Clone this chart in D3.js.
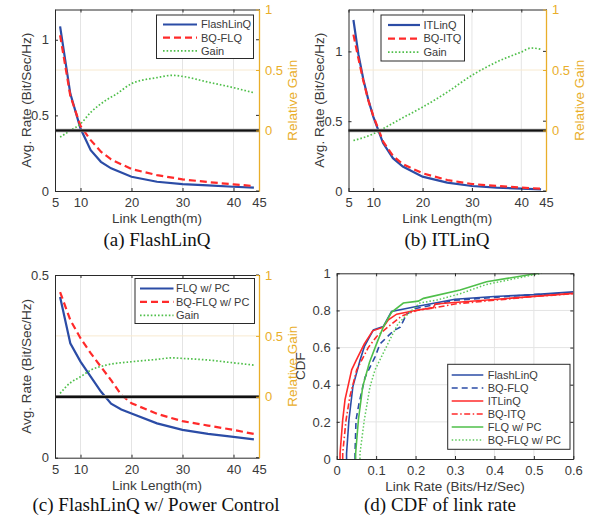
<!DOCTYPE html>
<html><head><meta charset="utf-8">
<script src="https://cdn.jsdelivr.net/npm/d3@7"></script>
<style>
body{margin:0;background:#fff;}
svg{display:block;}
text{font-family:"Liberation Sans",Arial,Helvetica,sans-serif;}
</style></head>
<body>
<svg id="chart" width="595" height="529"></svg>
<script>
// ---------- DATA ----------
const xTicks = [5, 10, 20, 30, 40, 45];
const gainTicks = [0, 0.5, 1];

// (a) FlashLinQ
const lenA = [6, 8, 10, 12, 14, 16, 20, 25, 30, 35, 40, 44];
const flashLinQ = [1.088, 0.644, 0.413, 0.27, 0.193, 0.15, 0.094, 0.061, 0.046, 0.037, 0.028, 0.022];
const bqFLQ = [1.03, 0.63, 0.43, 0.336, 0.26, 0.209, 0.145, 0.105, 0.077, 0.059, 0.044, 0.033];
const gainLenA = [6, 8, 10, 12, 15, 17, 20, 25, 28, 30, 35, 40, 44];
const gainA = [-0.055, 0.0, 0.055, 0.15, 0.25, 0.30, 0.387, 0.437, 0.456, 0.447, 0.40, 0.354, 0.312];

// (b) ITLinQ
const lenB = [6, 7, 8, 9, 10, 12, 14, 16, 20, 25, 30, 35, 40, 44];
const itLinQ = [1.225, 0.98, 0.80, 0.655, 0.535, 0.343, 0.235, 0.175, 0.103, 0.06, 0.036, 0.024, 0.017, 0.012];
const bqITQ = [1.12, 0.95, 0.79, 0.65, 0.54, 0.355, 0.252, 0.192, 0.127, 0.079, 0.05, 0.036, 0.024, 0.017];
const gainLenB = [6, 10, 12, 15, 20, 25, 30, 35, 40, 42, 44];
const gainB = [-0.083, -0.028, 0.014, 0.083, 0.193, 0.317, 0.456, 0.566, 0.649, 0.682, 0.671];

// (c) FlashLinQ w/ Power Control
const lenC = [6, 8, 10, 12, 14, 16, 18, 20, 25, 30, 35, 40, 44];
const flqPC = [0.44, 0.313, 0.263, 0.222, 0.181, 0.148, 0.132, 0.121, 0.094, 0.076, 0.065, 0.057, 0.05];
const bqFlqPC = [0.453, 0.377, 0.327, 0.286, 0.249, 0.212, 0.172, 0.149, 0.12, 0.1, 0.088, 0.076, 0.065];
const gainLenC = [6, 8, 10, 12, 15, 20, 25, 28, 30, 35, 40, 44];
const gainC = [0.028, 0.115, 0.164, 0.219, 0.26, 0.288, 0.307, 0.32, 0.315, 0.302, 0.279, 0.26];

// (d) CDF of link rate
const cdfXTicks = [0, 0.1, 0.2, 0.3, 0.4, 0.5, 0.6];
const cdfYTicks = [0, 0.2, 0.4, 0.6, 0.8, 1];
const cdfNames = ["FlashLinQ", "BQ-FLQ", "ITLinQ", "BQ-ITQ", "FLQ w/ PC", "BQ-FLQ w/ PC"];
const cdfFLQ_x = [0.025, 0.025, 0.031, 0.041, 0.059, 0.070, 0.093, 0.118, 0.139, 0.199, 0.30, 0.40, 0.50, 0.60];
const cdfFLQ_y = [0, 0.03, 0.21, 0.39, 0.53, 0.605, 0.695, 0.713, 0.794, 0.82, 0.86, 0.875, 0.885, 0.90];
const cdfBQFLQ_x = [0.0465, 0.0465, 0.049, 0.0566, 0.0719, 0.0972, 0.11, 0.1437, 0.161, 0.1775, 0.20, 0.30, 0.40, 0.50, 0.60];
const cdfBQFLQ_y = [0, 0.03, 0.21, 0.30, 0.44, 0.55, 0.62, 0.69, 0.71, 0.78, 0.81, 0.855, 0.87, 0.885, 0.895];
const cdfITQ_x = [0.0085, 0.0085, 0.0152, 0.0211, 0.038, 0.049, 0.070, 0.0913, 0.118, 0.131, 0.152, 0.199, 0.245, 0.25, 0.60];
const cdfITQ_y = [0, 0.03, 0.21, 0.32, 0.48, 0.53, 0.62, 0.69, 0.71, 0.75, 0.78, 0.80, 0.815, 0.835, 0.892];
const cdfBQITQ_x = [0.0152, 0.0152, 0.0237, 0.0338, 0.0507, 0.080, 0.1014, 0.135, 0.165, 0.203, 0.25, 0.30, 0.40, 0.50, 0.60];
const cdfBQITQ_y = [0, 0.03, 0.21, 0.34, 0.48, 0.60, 0.66, 0.72, 0.77, 0.80, 0.815, 0.835, 0.855, 0.875, 0.89];
const cdfFLQPC_x = [0.048, 0.048, 0.055, 0.066, 0.083, 0.101, 0.118, 0.139, 0.169, 0.207, 0.22, 0.313, 0.38, 0.511];
const cdfFLQPC_y = [0, 0.03, 0.21, 0.39, 0.52, 0.62, 0.71, 0.79, 0.84, 0.85, 0.865, 0.91, 0.955, 1.0];
const cdfBQFLQPC_x = [0.059, 0.059, 0.070, 0.0845, 0.0972, 0.118, 0.139, 0.156, 0.19, 0.211, 0.254, 0.313, 0.38, 0.507, 0.52];
const cdfBQFLQPC_y = [0, 0.03, 0.21, 0.39, 0.48, 0.57, 0.66, 0.73, 0.80, 0.84, 0.856, 0.89, 0.94, 0.995, 1.0];

// ---------- STYLE ----------
const BLUE = "#2b4ca6", RED = "#ff2a2a", GREEN = "#4fbf4a", GREEN2 = "#5cc95a";
const ORANGE = "#e9ae2a", AX = "#2a2a2a", TXT = "#3a3a3a", GRID = "#e4e4e4";
const FS = "13px";
const svg = d3.select("#chart");

function zip(xs, ys){ return xs.map((x,i)=>[x, ys[i]]); }

function drawDual(cfg){
  const g = svg.append("g");
  const x = d3.scaleLinear().domain([5,45]).range([cfg.l, cfg.r]);
  const y = d3.scaleLinear().domain([0, cfg.yMax]).range([cfg.b, cfg.t]);
  const y2 = d3.scaleLinear().domain([-0.5, 1]).range([cfg.b, cfg.t]);
  // grids
  g.selectAll(".vg").data(xTicks.filter(v=>v>5&&v<45)).enter().append("line")
    .attr("x1", d=>x(d)).attr("x2", d=>x(d)).attr("y1", cfg.t).attr("y2", cfg.b)
    .attr("stroke", GRID).attr("stroke-width", 1);
  g.append("line").attr("x1", cfg.l).attr("x2", cfg.r).attr("y1", y2(0.5)).attr("y2", y2(0.5))
    .attr("stroke", "#f8ead0").attr("stroke-width", 1);
  // curves
  const line = d3.line().x(d=>x(d[0])).y(d=>y(d[1]));
  const line2 = d3.line().x(d=>x(d[0])).y(d=>y2(d[1])).curve(d3.curveMonotoneX);
  g.append("path").attr("d", line(zip(cfg.xs, cfg.s1))).attr("fill","none")
    .attr("stroke", BLUE).attr("stroke-width", 2.2);
  g.append("path").attr("d", line(zip(cfg.xs, cfg.s2))).attr("fill","none")
    .attr("stroke", RED).attr("stroke-width", 2.2).attr("stroke-dasharray", "7,4");
  g.append("path").attr("d", line2(zip(cfg.gx, cfg.gain))).attr("fill","none")
    .attr("stroke", GREEN).attr("stroke-width", 1.7).attr("stroke-dasharray", "1.6,2");
  // zero gain line
  g.append("line").attr("x1", cfg.l).attr("x2", cfg.r).attr("y1", y2(0)).attr("y2", y2(0))
    .attr("stroke", "#9a9a9a").attr("stroke-width", 3.6);
  g.append("line").attr("x1", cfg.l).attr("x2", cfg.r).attr("y1", y2(0)).attr("y2", y2(0))
    .attr("stroke", "#111").attr("stroke-width", 2.2);
  // axes
  const bottom = g.append("g").attr("transform", `translate(0,${cfg.b})`)
    .call(d3.axisBottom(x).tickValues(xTicks).tickSizeInner(-3).tickSizeOuter(0).tickPadding(7));
  const top = g.append("g").attr("transform", `translate(0,${cfg.t})`)
    .call(d3.axisTop(x).tickValues(xTicks).tickSizeInner(-3).tickSizeOuter(0).tickFormat(""));
  const left = g.append("g").attr("transform", `translate(${cfg.l},0)`)
    .call(d3.axisLeft(y).tickValues(cfg.yTicks).tickSizeInner(-3).tickSizeOuter(0).tickPadding(6).tickFormat(d3.format("~g")));
  g.selectAll(".mt").data(cfg.yTicks).enter().append("line")
    .attr("x1", cfg.r-3).attr("x2", cfg.r).attr("y1", d=>y(d)).attr("y2", d=>y(d)).attr("stroke", AX);
  const right = g.append("g").attr("transform", `translate(${cfg.r},0)`)
    .call(d3.axisRight(y2).tickValues(gainTicks).tickSizeInner(-3).tickSizeOuter(0).tickPadding(6).tickFormat(d3.format("~g")));
  [bottom, top, left].forEach(a=>{
    a.select(".domain").attr("stroke", AX).attr("stroke-width", 1);
    a.selectAll(".tick line").attr("stroke", AX);
    a.selectAll("text").attr("fill", TXT).style("font-size", FS);
  });
  right.select(".domain").attr("stroke", ORANGE).attr("stroke-width", 1.3);
  right.selectAll(".tick line").attr("stroke", ORANGE);
  right.selectAll("text").attr("fill", ORANGE).style("font-size", FS);
  // labels
  g.append("text").attr("x", (cfg.l+cfg.r)/2).attr("y", cfg.b+32).attr("text-anchor","middle")
    .attr("fill", TXT).style("font-size","13.5px").text("Link Length(m)");
  g.append("text").attr("transform", `translate(${cfg.l-29},${(cfg.t+cfg.b)/2}) rotate(-90)`)
    .attr("text-anchor","middle").attr("dy","0.35em").attr("fill", TXT).style("font-size","13.5px")
    .text("Avg. Rate (Bit/Sec/Hz)");
  g.append("text").attr("transform", `translate(${cfg.r+33},${(cfg.t+cfg.b)/2}) rotate(-90)`)
    .attr("text-anchor","middle").attr("dy","0.35em").attr("fill", ORANGE).style("font-size","13.5px")
    .text("Relative Gain");
  // legend
  const L = cfg.leg;
  const lg = g.append("g");
  lg.append("rect").attr("x", L.x0).attr("y", L.y0).attr("width", L.x1-L.x0).attr("height", L.y1-L.y0)
    .attr("fill","#fff").attr("stroke", AX).attr("stroke-width", 1);
  const styles = [
    {c: BLUE, w: 2.2, d: null},
    {c: RED, w: 2.2, d: "7,4"},
    {c: GREEN, w: 1.7, d: "1.6,2"}
  ];
  cfg.names.forEach((n,i)=>{
    const yy = L.y0 + L.first + i*L.step;
    lg.append("line").attr("x1", L.lx0).attr("x2", L.lx1).attr("y1", yy).attr("y2", yy)
      .attr("stroke", styles[i].c).attr("stroke-width", styles[i].w).attr("stroke-dasharray", styles[i].d);
    lg.append("text").attr("x", L.tx).attr("y", yy).attr("dy","0.35em").attr("fill", TXT)
      .style("font-size","11px").text(n);
  });
  // caption
  svg.append("text").attr("x", cfg.capX).attr("y", cfg.capY).attr("text-anchor","middle")
    .style("font-family","'Liberation Serif','Times New Roman',serif").style("font-size","19px")
    .attr("fill","#111").text(cfg.caption);
}

drawDual({l:55, r:259, t:9.5, b:191, yMax:1.2, yTicks:[0,0.5,1], xs:lenA, s1:flashLinQ, s2:bqFLQ,
  gx:gainLenA, gain:gainA, names:["FlashLinQ","BQ-FLQ","Gain"],
  leg:{x0:156.5, x1:253.5, y0:15, y1:58.5, first:9.5, step:13.2, lx0:163, lx1:197, tx:201},
  caption:"(a) FlashLinQ", capX:157, capY:246});
drawDual({l:348.5, r:546, t:9.5, b:191, yMax:1.3, yTicks:[0,0.5,1], xs:lenB, s1:itLinQ, s2:bqITQ,
  gx:gainLenB, gain:gainB, names:["ITLinQ","BQ-ITQ","Gain"],
  leg:{x0:381, x1:464.5, y0:15, y1:61, first:10, step:13.6, lx0:388, lx1:420, tx:423.5},
  caption:"(b) ITLinQ", capX:447, capY:246});
drawDual({l:55, r:259, t:275, b:457.7, yMax:0.5, yTicks:[0,0.5], xs:lenC, s1:flqPC, s2:bqFlqPC,
  gx:gainLenC, gain:gainC, names:["FLQ w/ PC","BQ-FLQ w/ PC","Gain"],
  leg:{x0:135, x1:254.5, y0:278.5, y1:323.5, first:10, step:13.4, lx0:140, lx1:173.5, tx:176},
  caption:"(c) FlashLinQ w/ Power Control", capX:156, capY:511});

// ---------- (d) CDF ----------
(function(){
  const l=336.7, r=573.3, t=273.3, b=459;
  const g = svg.append("g");
  const x = d3.scaleLinear().domain([0,0.6]).range([l,r]);
  const y = d3.scaleLinear().domain([0,1]).range([b,t]);
  g.selectAll(".vg").data(cdfXTicks.slice(1,-1)).enter().append("line")
    .attr("x1", d=>x(d)).attr("x2", d=>x(d)).attr("y1", t).attr("y2", b).attr("stroke", GRID);
  g.selectAll(".hg").data(cdfYTicks.slice(1,-1)).enter().append("line")
    .attr("y1", d=>y(d)).attr("y2", d=>y(d)).attr("x1", l).attr("x2", r).attr("stroke", GRID);
  const series = [
    {xs:cdfFLQ_x, ys:cdfFLQ_y, c:BLUE, d:null, w:1.6},
    {xs:cdfBQFLQ_x, ys:cdfBQFLQ_y, c:BLUE, d:"6,4", w:1.6},
    {xs:cdfITQ_x, ys:cdfITQ_y, c:RED, d:null, w:1.6},
    {xs:cdfBQITQ_x, ys:cdfBQITQ_y, c:RED, d:"6,2.5,1.5,2.5", w:1.6},
    {xs:cdfFLQPC_x, ys:cdfFLQPC_y, c:GREEN, d:null, w:1.6},
    {xs:cdfBQFLQPC_x, ys:cdfBQFLQPC_y, c:GREEN2, d:"1.5,2", w:1.5}
  ];
  const line = d3.line().x(d=>x(d[0])).y(d=>y(d[1]));
  g.append("defs").append("clipPath").attr("id","clipd").append("rect")
    .attr("x", l).attr("y", t).attr("width", r-l).attr("height", b-t);
  const pg = g.append("g").attr("clip-path","url(#clipd)");
  series.forEach(s=>{
    pg.append("path").attr("d", line(zip(s.xs, s.ys))).attr("fill","none")
      .attr("stroke", s.c).attr("stroke-width", s.w).attr("stroke-dasharray", s.d);
  });
  const fmt = d3.format("~g");
  const axes = [
    g.append("g").attr("transform",`translate(0,${b})`).call(d3.axisBottom(x).tickValues(cdfXTicks).tickSizeInner(-3).tickSizeOuter(0).tickPadding(7).tickFormat(fmt)),
    g.append("g").attr("transform",`translate(0,${t})`).call(d3.axisTop(x).tickValues(cdfXTicks).tickSizeInner(-3).tickSizeOuter(0).tickFormat("")),
    g.append("g").attr("transform",`translate(${l},0)`).call(d3.axisLeft(y).tickValues(cdfYTicks).tickSizeInner(-3).tickSizeOuter(0).tickPadding(6).tickFormat(fmt)),
    g.append("g").attr("transform",`translate(${r},0)`).call(d3.axisRight(y).tickValues(cdfYTicks).tickSizeInner(-3).tickSizeOuter(0).tickFormat(""))
  ];
  axes.forEach(a=>{
    a.select(".domain").attr("stroke", AX);
    a.selectAll(".tick line").attr("stroke", AX);
    a.selectAll("text").attr("fill", TXT).style("font-size", FS);
  });
  g.append("text").attr("x", (l+r)/2).attr("y", b+32).attr("text-anchor","middle")
    .attr("fill", TXT).style("font-size","13.5px").text("Link Rate (Bits/Hz/Sec)");
  g.append("text").attr("transform", `translate(${300},${(t+b)/2}) rotate(-90)`)
    .attr("text-anchor","middle").attr("dy","0.35em").attr("fill", TXT).style("font-size","13.5px").text("CDF");
  // legend
  const lx0=447.7, lx1=570, ly0=364.3, ly1=449.3;
  const lg = g.append("g");
  lg.append("rect").attr("x", lx0).attr("y", ly0).attr("width", lx1-lx0).attr("height", ly1-ly0)
    .attr("fill","#fff").attr("stroke", AX);
  series.forEach((s,i)=>{
    const yy = ly0 + 10.7 + i*13.0;
    lg.append("line").attr("x1", 451.7).attr("x2", 483.3).attr("y1", yy).attr("y2", yy)
      .attr("stroke", s.c).attr("stroke-width", s.w).attr("stroke-dasharray", s.d);
    lg.append("text").attr("x", 487.7).attr("y", yy).attr("dy","0.35em").attr("fill", TXT)
      .style("font-size","11px").text(cdfNames[i]);
  });
  svg.append("text").attr("x", 440).attr("y", 511).attr("text-anchor","middle")
    .style("font-family","'Liberation Serif','Times New Roman',serif").style("font-size","19px")
    .attr("fill","#111").text("(d) CDF of link rate");
})();
</script>
</body></html>
